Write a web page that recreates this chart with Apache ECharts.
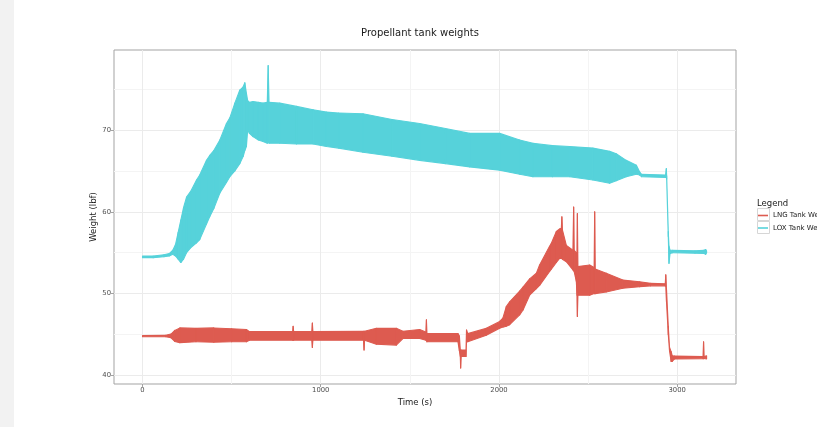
<!DOCTYPE html>
<html>
<head>
<meta charset="utf-8">
<script src="https://cdn.jsdelivr.net/npm/echarts@6/dist/echarts.min.js"></script>
<style>
  html, body { margin: 0; padding: 0; background: #fff; }
  #chart { width: 817px; height: 427px; }
</style>
</head>
<body>
<div id="chart"></div>
<script>
// LNG tank weight: time (s) with lower / upper edge of the noisy trace (lbf)
var lngTime = [0, 130, 160, 181, 210, 300, 400, 500, 583, 600, 843, 845, 848, 950, 953, 956, 1240, 1243, 1246, 1312,
  1424, 1461, 1555, 1590, 1593, 1596, 1770, 1778, 1783, 1785, 1788, 1815, 1818, 1825, 1929, 2004, 2022, 2041, 2060, 2116,
  2135, 2172, 2210, 2228, 2284, 2294, 2322, 2340, 2350, 2353, 2356, 2378, 2415, 2419, 2422, 2434, 2438, 2440, 2443, 2509,
  2534, 2537, 2540, 2602, 2695, 2789, 2850, 2933, 2936, 2940, 2950, 2957, 2966, 2972, 2985, 3145, 3148, 3151, 3165];
var lngLow = [44.72, 44.72, 44.6, 44.15, 44.0, 44.1, 44.05, 44.1, 44.1, 44.3, 44.3, 44.3, 44.3, 44.3, 43.4, 44.3, 44.3, 43.1, 44.3, 43.8,
  43.7, 44.5, 44.5, 44.3, 44.3, 44.1, 44.1, 43.0, 42.3, 40.9, 42.3, 42.3, 44.1, 44.1, 44.9, 45.75, 45.9, 46.0, 46.2, 47.4,
  48.0, 49.8, 50.6, 51.0, 52.7, 53.0, 53.8, 54.3, 54.3, 54.3, 54.2, 53.9, 52.9, 52.8, 52.7, 51.5, 49.8, 47.2, 49.8, 49.8,
  50.0, 50.0, 50.0, 50.2, 50.65, 50.85, 50.95, 50.95, 50.9, 49.0, 45.0, 43.0, 41.7, 41.7, 42.0, 42.05, 42.05, 42.05, 42.0];
var lngHigh = [44.88, 44.9, 45.05, 45.5, 45.8, 45.75, 45.8, 45.7, 45.6, 45.35, 45.35, 46.0, 45.35, 45.35, 46.4, 45.35, 45.4, 45.4, 45.4, 45.75,
  45.75, 45.4, 45.6, 45.3, 46.8, 45.1, 45.1, 44.8, 43.1, 43.1, 43.1, 43.1, 45.55, 45.1, 45.75, 46.6, 47.0, 48.4, 49.0, 50.3,
  50.8, 51.8, 52.5, 53.5, 55.8, 56.15, 57.6, 57.9, 58.0, 59.4, 57.8, 55.9, 55.3, 60.6, 55.3, 55.0, 55.0, 59.8, 53.3, 53.5,
  53.2, 60.0, 53.0, 52.5, 51.65, 51.45, 51.25, 51.2, 52.3, 50.5, 46.0, 43.4, 42.9, 42.4, 42.35, 42.3, 44.1, 42.3, 42.4];

// LOX tank weight: time (s) with lower / upper edge of the noisy trace (lbf)
var loxTime = [0, 60, 120, 150, 170, 185, 200, 215, 230, 247, 270, 303, 321, 359, 377, 400, 434, 471, 490, 518,
  546, 565, 574, 583, 590, 600, 620, 650, 676, 700, 705, 710, 770, 864, 957, 1032, 1100, 1237, 1400, 1555,
  1700, 1836, 2004, 2116, 2191, 2300, 2397, 2527, 2621, 2658, 2714, 2771, 2789, 2800, 2935, 2939, 2941, 2950, 2954, 2960,
  2975, 3100, 3150, 3160, 3165];
var loxLow = [54.4, 54.4, 54.5, 54.6, 54.8, 54.6, 54.2, 53.8, 54.2, 55.0, 55.6, 56.2, 56.6, 58.5, 59.4, 60.4, 62.3, 63.6, 64.3, 65.0,
  65.9, 66.8, 67.5, 68.0, 70.0, 69.6, 69.2, 68.8, 68.6, 68.4, 68.6, 68.4, 68.4, 68.3, 68.3, 68.0, 67.8, 67.3, 66.8, 66.3,
  65.9, 65.5, 65.1, 64.6, 64.3, 64.3, 64.3, 63.9, 63.5, 63.8, 64.3, 64.6, 64.5, 64.3, 64.2, 64.2, 64.0, 57.0, 53.7, 54.9,
  55.0, 54.95, 54.9, 54.8, 55.0];
var loxHigh = [54.6, 54.6, 54.75, 54.9, 55.3, 56.0, 57.5, 59.0, 60.5, 61.8, 62.5, 63.9, 64.5, 66.3, 66.9, 67.5, 68.8, 70.8, 71.5, 73.3,
  74.9, 75.3, 75.8, 74.5, 73.6, 73.4, 73.5, 73.4, 73.3, 73.4, 77.9, 73.4, 73.3, 72.9, 72.5, 72.2, 72.1, 72.0, 71.3, 70.8,
  70.2, 69.6, 69.6, 68.8, 68.4, 68.1, 68.0, 67.8, 67.4, 67.1, 66.3, 65.7, 64.9, 64.6, 64.5, 65.3, 64.4, 57.6, 55.8, 55.3,
  55.3, 55.25, 55.3, 55.4, 55.2];

var xTicks = [0, 1000, 2000, 3000];
var xMinorTicks = [500, 1500, 2500];
var yTicks = [40, 50, 60, 70];
var yMinorTicks = [45, 55, 65, 75];

var LNG_COLOR = '#dd5b50';
var LOX_COLOR = '#56d2da';
var FONT = 'DejaVu Sans';

// the noisy trace is drawn as a band: one quad per pair of neighbouring samples
function band(name, time, low, high, color) {
  var rows = [];
  for (var i = 0; i < time.length - 1; i++) {
    rows.push([time[i], low[i], high[i], time[i + 1], low[i + 1], high[i + 1]]);
  }
  return {
    name: name,
    type: 'custom',
    clip: true,
    silent: true,
    animation: false,
    itemStyle: { color: color },
    encode: { x: [0, 3], y: [1, 2, 4, 5] },
    data: rows,
    renderItem: function (params, api) {
      var a = api.coord([api.value(0), api.value(1)]);
      var b = api.coord([api.value(3), api.value(4)]);
      var c = api.coord([api.value(3), api.value(5)]);
      var d = api.coord([api.value(0), api.value(2)]);
      return {
        type: 'polygon',
        shape: { points: [a, b, c, d] },
        style: { fill: color, stroke: color, lineWidth: 1.1, lineJoin: 'round' }
      };
    }
  };
}

function plain(v) { return String(v); }

var chart = echarts.init(document.getElementById('chart'));
chart.setOption({
  backgroundColor: '#fff',
  textStyle: { fontFamily: FONT },
  title: [
    {
      text: 'Propellant tank weights',
      left: 415, top: 23, textAlign: 'center',
      textStyle: { fontFamily: FONT, fontSize: 10, fontWeight: 'normal', color: '#1a1a1a' }
    },
    {
      text: 'Legend',
      left: 752, top: 194,
      textStyle: { fontFamily: FONT, fontSize: 8.5, fontWeight: 'normal', color: '#1a1a1a' }
    }
  ],
  grid: {
    left: 114, top: 50, width: 622, height: 334,
    show: true, borderColor: '#a3a3a3', borderWidth: 1, backgroundColor: '#fff'
  },
  legend: {
    orient: 'vertical',
    left: 753, top: 207,
    icon: 'rect', itemWidth: 10, itemHeight: 1.6, itemGap: 5.5,
    selectedMode: false,
    data: ['LNG Tank Weight', 'LOX Tank Weight'],
    textStyle: { fontFamily: FONT, fontSize: 7, color: '#1a1a1a' }
  },
  graphic: [
    { type: 'rect', shape: { x: 0, y: 0, width: 14, height: 427 }, style: { fill: '#f2f2f2' }, silent: true },
    { type: 'rect', shape: { x: 757.5, y: 208.5, width: 12, height: 12 }, style: { fill: '#fff', stroke: '#d6d6d6', lineWidth: 1 }, z: -1, silent: true },
    { type: 'rect', shape: { x: 757.5, y: 221.5, width: 12, height: 12 }, style: { fill: '#fff', stroke: '#d6d6d6', lineWidth: 1 }, z: -1, silent: true }
  ],
  xAxis: [
    {
      type: 'value', min: -160, max: 3330, position: 'bottom',
      name: 'Time (s)', nameLocation: 'middle', nameGap: 14, nameMoveOverlap: false,
      nameTextStyle: { fontFamily: FONT, fontSize: 8.5, color: '#1a1a1a', padding: [0, 20, 0, 0] },
      axisLine: { show: false, onZero: false },
      axisTick: { show: true, length: 3, customValues: xTicks, lineStyle: { color: '#a3a3a3' } },
      axisLabel: { customValues: xTicks, formatter: plain, fontSize: 6.8, color: '#4d4d4d', margin: 3 },
      splitLine: { show: true, lineStyle: { color: '#ebebeb', width: 1 } }
    },
    {
      type: 'value', min: -160, max: 3330, position: 'top',
      axisLine: { show: false, onZero: false },
      axisTick: { show: false, customValues: xMinorTicks },
      axisLabel: { show: false, customValues: xMinorTicks },
      splitLine: { show: true, lineStyle: { color: '#f4f4f4', width: 1 } }
    }
  ],
  yAxis: [
    {
      type: 'value', min: 38.94, max: 79.8, position: 'left',
      name: 'Weight (lbf)', nameLocation: 'middle', nameGap: 16, nameRotate: 90, nameMoveOverlap: false,
      nameTextStyle: { fontFamily: FONT, fontSize: 8.5, color: '#1a1a1a' },
      axisLine: { show: false, onZero: false },
      axisTick: { show: true, length: 3, customValues: yTicks, lineStyle: { color: '#a3a3a3' } },
      axisLabel: { customValues: yTicks, formatter: plain, fontSize: 6.8, color: '#4d4d4d', margin: 3 },
      splitLine: { show: true, lineStyle: { color: '#ebebeb', width: 1 } }
    },
    {
      type: 'value', min: 38.94, max: 79.8, position: 'right',
      axisLine: { show: false, onZero: false },
      axisTick: { show: false, customValues: yMinorTicks },
      axisLabel: { show: false, customValues: yMinorTicks },
      splitLine: { show: true, lineStyle: { color: '#f4f4f4', width: 1 } }
    }
  ],
  series: [
    band('LNG Tank Weight', lngTime, lngLow, lngHigh, LNG_COLOR),
    band('LOX Tank Weight', loxTime, loxLow, loxHigh, LOX_COLOR)
  ]
});
</script>
</body>
</html>
